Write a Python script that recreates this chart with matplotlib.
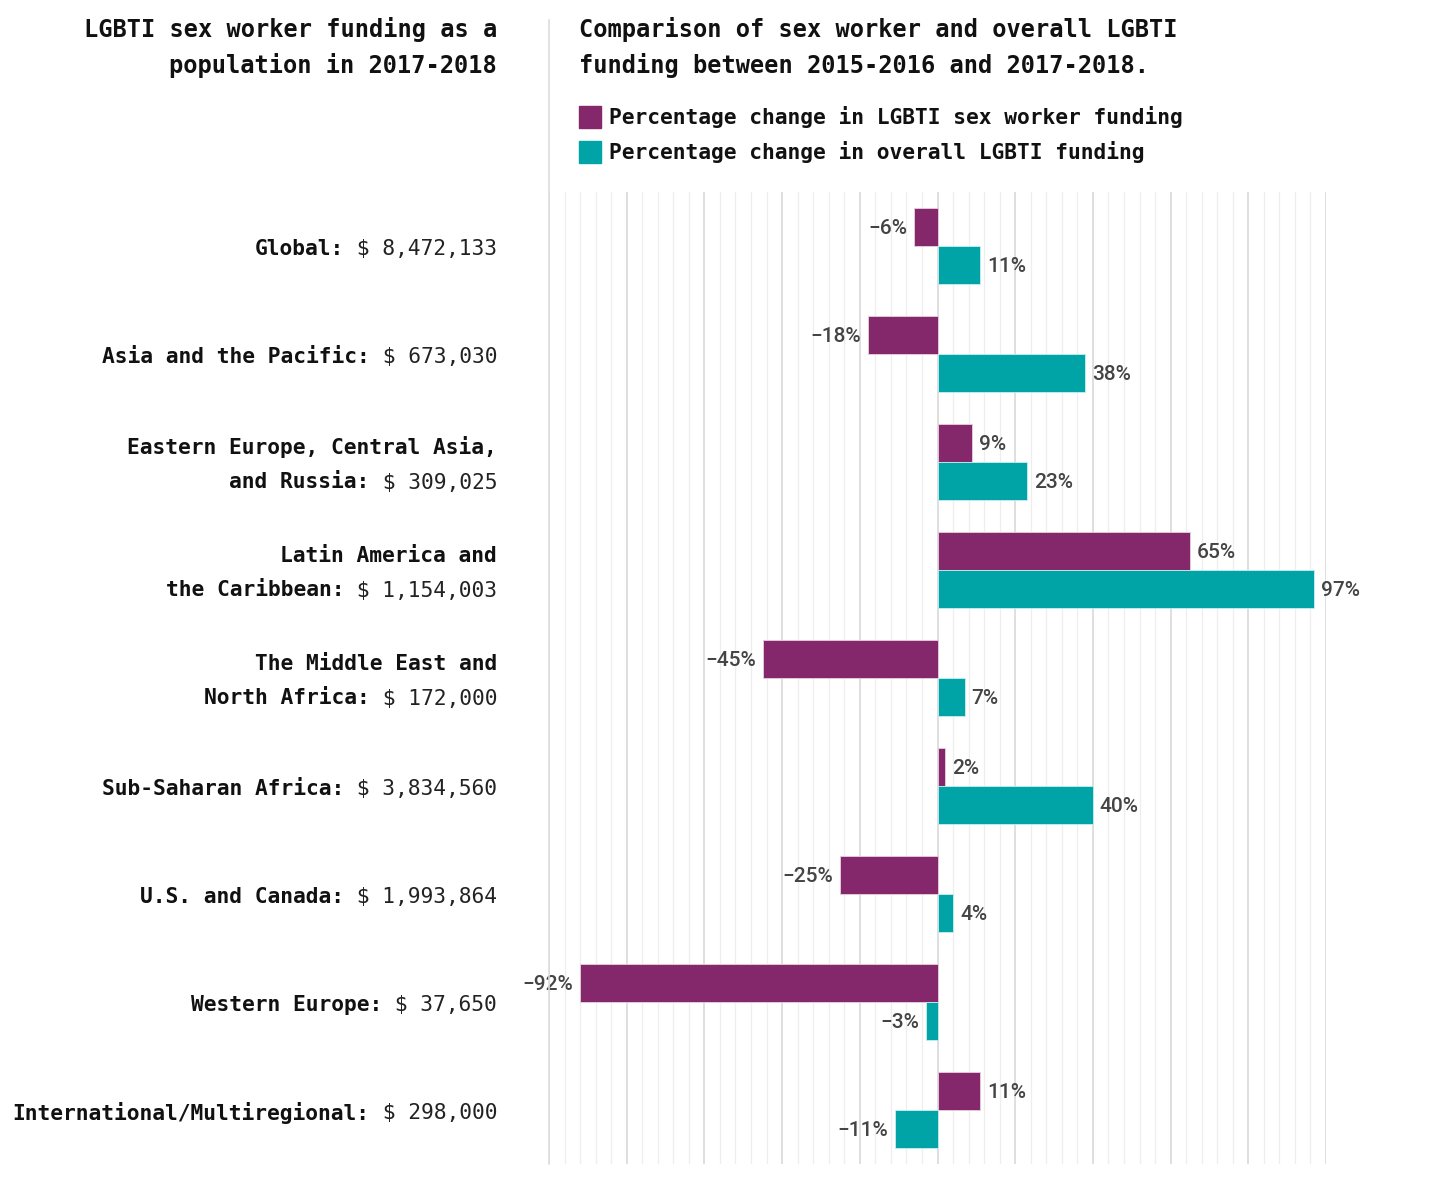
import matplotlib
matplotlib.use("Agg")
import matplotlib.pyplot as plt
import numpy as np

regions_bold = [["Global:"], ["Asia and the Pacific:"], ["Eastern Europe, Central Asia,", "and Russia:"],
                ["Latin America and", "the Caribbean:"], ["The Middle East and", "North Africa:"],
                ["Sub-Saharan Africa:"], ["U.S. and Canada:"], ["Western Europe:"],
                ["International/Multiregional:"]]
funding = ["$ 8,472,133", "$ 673,030", "$ 309,025", "$ 1,154,003", "$ 172,000",
           "$ 3,834,560", "$ 1,993,864", "$ 37,650", "$ 298,000"]
sex_worker_change = [-6, -18, 9, 65, -45, 2, -25, -92, 11]
overall_change = [11, 38, 23, 97, 7, 40, 4, -3, -11]

PURPLE = "#85276b"
TEAL = "#00a3a6"
MONO = ["DejaVu Sans Mono"]
W, H = 1437, 1181

fig = plt.figure(figsize=(W / 100, H / 100), dpi=100)
ax = fig.add_axes([549 / W, 1 - 1164 / H, (1326 - 549) / W, (1164 - 192) / H])

n = len(sex_worker_change)
y = np.arange(n)
bh = 0.355
ax.barh(y - bh / 2, sex_worker_change, height=bh, color=PURPLE, edgecolor="#e8d0e0", linewidth=0.6, zorder=3)
ax.barh(y + bh / 2, overall_change, height=bh, color=TEAL, edgecolor="#c8eeee", linewidth=0.6, zorder=3)

ax.set_xlim(-100, 100)
ax.set_ylim(n - 0.5, -0.5)
for xv in range(-100, 101, 4):
    major = xv % 20 == 0
    ax.axvline(xv, color="#d9d9d9" if major else "#eeeeee", lw=1.2 if major else 0.9, zorder=0)
for s in ax.spines.values():
    s.set_visible(False)
ax.set_xticks([])
ax.set_yticks([])

def fmt(v):
    return (f"\u2212{abs(v)}%" if v < 0 else f"{v}%")

for vals, off in ((sex_worker_change, -bh / 2), (overall_change, bh / 2)):
    for i, v in enumerate(vals):
        if v >= 0:
            ax.annotate(fmt(v), (v, i + off), xytext=(5, -1), textcoords="offset points",
                        ha="left", va="center", fontsize=15, family="Roboto", weight="medium",
                        color="#444444")
        else:
            ax.annotate(fmt(v), (v, i + off), xytext=(-5, -1), textcoords="offset points",
                        ha="right", va="center", fontsize=15, family="Roboto", weight="medium",
                        color="#444444")

# separator line
fig.add_artist(plt.Line2D([549 / W, 549 / W], [1 - 1164 / H, 1 - 20 / H], color="#dddddd", lw=1.2))

# titles
for xx, ha, lines in ((497, "right", ["LGBTI sex worker funding as a", "population in 2017-2018"]),
                      (579, "left", ["Comparison of sex worker and overall LGBTI",
                                     "funding between 2015-2016 and 2017-2018."])):
    for yy, line in zip((30, 65), lines):
        fig.text(xx / W, 1 - yy / H, line, ha=ha, va="center", fontsize=17, family=MONO,
                 weight="bold", color="#111111")

# legend
for yy, col, lab in ((117, PURPLE, "Percentage change in LGBTI sex worker funding"),
                     (152, TEAL, "Percentage change in overall LGBTI funding")):
    fig.patches.append(plt.Rectangle((579 / W, 1 - (yy + 11) / H), 22 / W, 22 / H,
                                     transform=fig.transFigure, color=col))
    fig.text(609 / W, 1 - yy / H, lab, ha="left", va="center", fontsize=15.3,
             family=MONO, weight="bold", color="#111111")

# left labels
fig.canvas.draw()
renderer = fig.canvas.get_renderer()
xr = 497 / W
line_gap = 35
for i, (bold_lines, amt) in enumerate(zip(regions_bold, funding)):
    ycenter = ax.transData.transform((0, i))[1] - 3
    nl = len(bold_lines)
    for j, bl in enumerate(bold_lines):
        ypix = ycenter + (nl - 1) * line_gap / 2 - j * line_gap
        yf = ypix / H
        if j == nl - 1:
            t = fig.text(xr, yf, " " + amt, ha="right", va="center", fontsize=15.3,
                         family=MONO, color="#222222")
            bb = t.get_window_extent(renderer)
            fig.text(bb.x0 / W, yf, bl, ha="right", va="center", fontsize=15.3,
                     family=MONO, weight="bold", color="#111111")
        else:
            fig.text(xr, yf, bl, ha="right", va="center", fontsize=15.3,
                     family=MONO, weight="bold", color="#111111")

fig.savefig("out.png", dpi=100, facecolor="white")
